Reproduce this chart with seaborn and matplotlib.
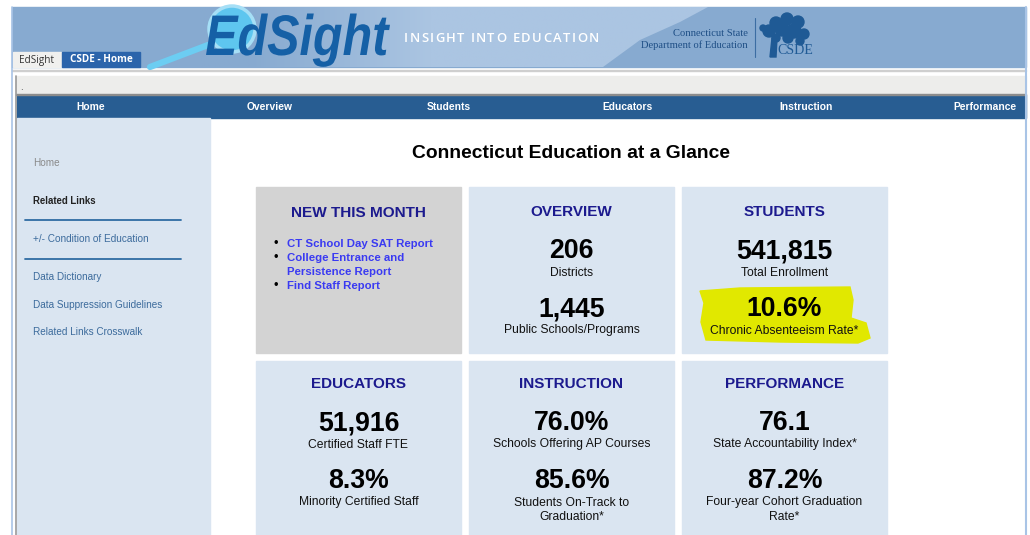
"""EdSight 'Connecticut Education at a Glance' 화면을 다시 그리는 코드입니다.

실행 방법:
    python plot.py

출력 파일:
    out.png
"""

import matplotlib.pyplot as plt
import numpy as np
import seaborn as sns
from matplotlib.colors import to_rgb
from matplotlib.font_manager import FontProperties
from matplotlib.patches import Circle, PathPatch, Polygon, Rectangle
from matplotlib.textpath import TextPath, TextToPath
from matplotlib.transforms import Affine2D


# 화면에 보이는 값들
nav_items = ["Home", "Overview", "Students", "Educators", "Instruction", "Performance"]
sidebar_links = ["Data Dictionary", "Data Suppression Guidelines", "Related Links Crosswalk"]
new_this_month = ["CT School Day SAT Report", "College Entrance and\nPersistence Report", "Find Staff Report"]

tile_titles = ["OVERVIEW", "STUDENTS", "EDUCATORS", "INSTRUCTION", "PERFORMANCE"]
first_values = [206, 541815, 51916, 76.0, 76.1]
first_kinds = ["count", "count", "count", "pct", "index"]
first_labels = ["Districts", "Total Enrollment", "Certified Staff FTE",
                "Schools Offering AP Courses", "State Accountability Index*"]
second_values = [1445, 10.6, 8.3, 85.6, 87.2]
second_kinds = ["count", "pct", "pct", "pct", "pct"]
second_labels = ["Public Schools/Programs", "Chronic Absenteeism Rate*", "Minority Certified Staff",
                 "Students On-Track to\nGraduation*", "Four-year Cohort Graduation\nRate*"]

BANNER = "#87aad0"
BANNER_LIGHT = "#abc5e2"
NAV = "#285d92"
SIDE = "#dae5f1"
TILE = "#dae5f1"
TILE_TITLE = "#1c1a8e"


def fmt(value, kind):
    """숫자 종류에 맞게 문자열로 바꿉니다."""
    if kind == "count":
        return f"{value:,.0f}"
    if kind == "pct":
        return f"{value:.1f}%"
    return f"{value:.1f}"


def px(size):
    """픽셀 크기를 포인트로 바꿉니다 (dpi=100)."""
    return size * 0.72


def spaced_text(ax, x, y, text, size_px, tracking, **kwargs):
    """글자 사이 간격을 넓혀서 한 글자씩 씁니다."""
    prop = FontProperties(family="Open Sans", weight="semibold", size=px(size_px))
    ttp = TextToPath()
    for ch in text:
        if ch != " ":
            ax.text(x, y, ch, fontproperties=prop, ha="left", va="center", **kwargs)
        w_pt, _, _ = ttp.get_text_width_height_descent(ch, prop, ismath=False)
        x += w_pt / 0.72 + tracking


def multiline(ax, x, y, text, step, **kwargs):
    """여러 줄 글자를 줄 간격(step 픽셀)에 맞춰 한 줄씩 씁니다."""
    for k, line in enumerate(text.split("\n")):
        ax.text(x, y + k * step, line, va="center", **kwargs)


def draw_header(ax):
    """상단 배너, 탭, 로고를 그립니다."""
    ax.add_patch(Rectangle((12, 7), 1014, 60, color=BANNER, zorder=1))

    # 밝은 곡선 영역 (왼쪽은 서서히 밝아짐)
    curve = Polygon([(200, 7), (708, 7), (680, 22), (640, 40), (603, 67), (200, 67)],
                    closed=True, fc="none", ec="none", zorder=1)
    ax.add_patch(curve)
    xs = np.linspace(200, 708, 400)
    t = np.clip((xs - 250) / 180, 0, 1)[None, :, None]
    grad = (1 - t) * np.array(to_rgb(BANNER)) + t * np.array(to_rgb(BANNER_LIGHT))
    img = ax.imshow(grad, extent=(200, 708, 67, 7), aspect="auto", zorder=1)
    img.set_clip_path(curve)

    # 돋보기
    ax.plot([150, 208], [67, 45], color="#6ccdf2", lw=4.5, solid_capstyle="round", zorder=2)
    ax.add_patch(Circle((232, 29), 23, color="#5ec6ef", zorder=2))
    ax.add_patch(Circle((232, 29), 23, fill=False, ec="#a6dff6", lw=2.5, zorder=2))

    # EdSight 로고 글자 (좁고 높은 굵은 이탤릭)
    prop = FontProperties(family="Liberation Sans", weight="bold", style="italic")
    path = TextPath((0, 0), "EdSight", size=60, prop=prop)
    ext = path.get_extents()
    sx = (390 - 206) / ext.width
    sy = 41 / (60 * 0.716)
    trans = Affine2D().translate(-ext.x0, 0).scale(sx, -sy).translate(206, 55)
    ax.add_patch(PathPatch(trans.transform_path(path), color="#1560a6", lw=0, zorder=3))

    spaced_text(ax, 404, 39, "INSIGHT INTO EDUCATION", 13, 1.4, color="white", zorder=3)

    ax.text(748, 34, "Connecticut State", family="Liberation Serif", fontsize=px(10.5),
            color="#1f4f86", ha="right", va="center", zorder=3)
    ax.text(748, 45, "Department of Education", family="Liberation Serif", fontsize=px(10.5),
            color="#1f4f86", ha="right", va="center", zorder=3)
    ax.plot([755, 755], [18, 57], color="#3c6da3", lw=0.8, zorder=3)

    # CSDE 나무 로고
    blobs = [(776, 23, 6), (787, 19, 6), (798, 22, 6), (769, 31, 6), (782, 29, 7),
             (794, 31, 7), (804, 34, 5), (763, 28, 3), (788, 38, 5), (776, 38, 4), (800, 41, 4)]
    for cx, cy, r in blobs:
        ax.add_patch(Circle((cx, cy), r, color="#1f5a95", zorder=3))
    ax.add_patch(Polygon([(770, 57), (772, 38), (777, 38), (776, 57)], closed=True,
                         color="#1f5a95", zorder=3))
    ax.text(777, 51, "CSDE", family="Liberation Serif", fontsize=px(14), color="#1f5a95",
            ha="left", va="center", zorder=4)

    # 탭
    ax.add_patch(Rectangle((13, 52), 48, 15, color="#f0f0ee", zorder=3))
    ax.text(37, 60, "EdSight", family="Open Sans", fontsize=px(10), color="#333333",
            ha="center", va="center", zorder=4)
    ax.add_patch(Rectangle((62, 52), 78, 15, color="#2b64ab", zorder=3))
    ax.text(101, 60, "CSDE - Home", family="Open Sans", fontsize=px(10), color="white",
            weight="bold", ha="center", va="center", zorder=4)

    # 배너 아래 회색 줄과 내비게이션
    ax.add_patch(Rectangle((12, 70), 1014, 1.2, color="#cfcfcf", zorder=1))
    ax.add_patch(Rectangle((16, 76), 1010, 18, color="#ededeb", zorder=1))
    ax.text(20, 87, ".", fontsize=px(10), color="#444444", va="center", zorder=2)
    ax.add_patch(Rectangle((16, 93.5), 1010, 1.5, color="#8c8c8c", zorder=2))
    ax.add_patch(Rectangle((17, 95), 1009, 23, color=NAV, zorder=1))

    centers = [91 + i * 178.8 for i in range(len(nav_items))]
    for cx, item in zip(centers, nav_items):
        ax.text(cx, 107.5, item, color="white", weight="bold", fontsize=px(10.2),
                ha="center", va="center", zorder=2)


def draw_sidebar(ax):
    """왼쪽 메뉴를 그립니다."""
    ax.add_patch(Rectangle((17, 118), 193, 420, color=SIDE, zorder=1))
    ax.text(33, 163, "Home", color="#8a8a8a", fontsize=px(10), va="center")
    ax.text(33, 201, "Related Links", color="#222222", weight="bold", fontsize=px(9.6), va="center")
    for y in (220, 259):
        ax.plot([25, 181], [y, y], color="#2f6ca3", lw=1.3)
    ax.text(33, 239, "+/- Condition of Education", color="#3c6b9c", fontsize=px(10), va="center")
    for y, label in zip([277, 305, 332], sidebar_links):
        ax.text(33, y, label, color="#3c6b9c", fontsize=px(10), va="center")


def draw_tiles(ax):
    """가운데 요약 카드들을 그립니다."""
    ax.text(571, 154, "Connecticut Education at a Glance", weight="bold", fontsize=px(19.3),
            ha="center", va="center", color="black")

    col_x = [256, 469, 682]
    row_y = [187, 361]
    width = 205

    # NEW THIS MONTH 카드
    ax.add_patch(Rectangle((col_x[0], row_y[0]), width, 166, color="#d3d3d3", zorder=1))
    ax.text(col_x[0] + width / 2, 213, "NEW THIS MONTH", color=TILE_TITLE, weight="bold",
            fontsize=px(15.4), ha="center", va="center")
    line_y = 244
    for link in new_this_month:
        ax.text(276, line_y - 0.5, "\u2022", fontsize=px(13), ha="center", va="center", color="black")
        multiline(ax, 287, line_y, link, 14, color="#3a3af2", weight="bold",
                  fontsize=px(11.4), ha="left")
        line_y += 14 * (link.count("\n") + 1)

    slots = [(1, 0), (2, 0), (0, 1), (1, 1), (2, 1)]
    for i, (c, r) in enumerate(slots):
        x0, y0 = col_x[c], row_y[r]
        cx = x0 + width / 2
        height = 166 if r == 0 else 190
        ax.add_patch(Rectangle((x0, y0), width, height, color=TILE, zorder=1))

        off = 1.5 if r == 0 else -0.5
        ax.text(cx, y0 + 24 + off, tile_titles[i], color=TILE_TITLE, weight="bold",
                fontsize=px(15.2), ha="center", va="center", zorder=3)

        if tile_titles[i] == "STUDENTS":
            # 노란 형광펜 표시
            ax.add_patch(Polygon([(700, 291), (740, 288), (850, 287), (853, 300), (851, 318),
                                  (866, 323), (870, 338), (858, 343), (780, 342), (706, 340),
                                  (701, 322), (704, 303)],
                                 closed=True, color="#e1e800", zorder=2))

        ax.text(cx, y0 + 63 + off, fmt(first_values[i], first_kinds[i]), weight="bold",
                fontsize=px(26.6), ha="center", va="center", color="black", zorder=3)
        ax.text(cx, y0 + 84 + off, first_labels[i], fontsize=px(12.1), ha="center",
                va="center", color="#111111", zorder=3)
        ax.text(cx, y0 + 121 + off, fmt(second_values[i], second_kinds[i]), weight="bold",
                fontsize=px(26.6), ha="center", va="center", color="black", zorder=3)
        multiline(ax, cx, y0 + 142 + off, second_labels[i], 14, fontsize=px(12.1),
                  ha="center", color="#111111", zorder=3)


def main():
    sns.set_theme(style="white")
    plt.rcParams["font.family"] = ["Liberation Sans", "DejaVu Sans"]

    fig = plt.figure(figsize=(10.30, 5.35), dpi=100)
    ax = fig.add_axes([0, 0, 1, 1])
    ax.set_xlim(0, 1030)
    ax.set_ylim(535, 0)
    ax.axis("off")

    draw_header(ax)
    draw_sidebar(ax)
    draw_tiles(ax)

    # 페이지 테두리
    ax.plot([12, 12], [7, 535], color="#a9c4e6", lw=1.2, zorder=5)
    ax.plot([16, 16], [76, 535], color="#9a9a9a", lw=1.2, zorder=5)
    ax.plot([1026, 1026], [7, 535], color="#a9c4e6", lw=1.5, zorder=5)

    ax.set_xlim(0, 1030)
    ax.set_ylim(535, 0)
    fig.savefig("out.png", dpi=100)
    plt.close(fig)


if __name__ == "__main__":
    main()
